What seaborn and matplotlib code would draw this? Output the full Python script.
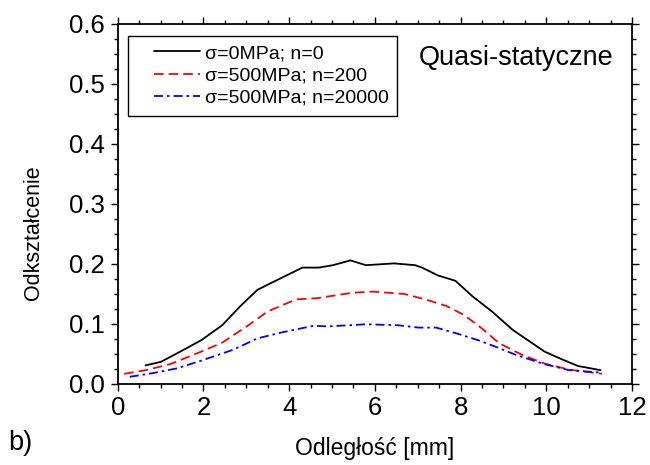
import matplotlib
matplotlib.use("Agg")
import matplotlib.pyplot as plt
from matplotlib.lines import Line2D
from matplotlib.legend_handler import HandlerLine2D
import seaborn as sns
import pandas as pd

# values
x_s0 = [0.65, 1.01, 1.46, 1.95, 2.44, 2.85, 3.26, 3.91, 4.31, 4.69, 5.02, 5.43, 5.79,
        6.45, 6.94, 7.10, 7.47, 7.88, 8.28, 8.73, 9.22, 9.59, 9.96, 10.37, 10.74, 11.27]
y_s0 = [0.031, 0.037, 0.054, 0.073, 0.098, 0.129, 0.157, 0.180, 0.194, 0.194, 0.198, 0.206, 0.198,
        0.201, 0.198, 0.194, 0.181, 0.172, 0.146, 0.121, 0.090, 0.072, 0.054, 0.041, 0.030, 0.023]

x_s500_n200 = [0.15, 0.65, 1.22, 1.95, 2.44, 3.01, 3.50, 4.16, 4.65, 5.47, 5.96, 6.69,
               7.18, 7.67, 8.08, 8.49, 8.90, 9.39, 9.96, 10.53, 11.30]
y_s500_n200 = [0.017, 0.023, 0.033, 0.054, 0.069, 0.096, 0.121, 0.141, 0.143, 0.152, 0.154, 0.150,
               0.141, 0.130, 0.115, 0.093, 0.068, 0.050, 0.034, 0.024, 0.017]

x_s500_n20000 = [0.28, 0.81, 1.38, 1.95, 2.69, 3.26, 3.83, 4.57, 4.90, 5.79, 6.53, 7.02,
                 7.43, 7.92, 8.41, 8.82, 9.31, 9.96, 10.53, 11.27]
y_s500_n20000 = [0.012, 0.018, 0.026, 0.039, 0.057, 0.076, 0.086, 0.097, 0.096, 0.0995, 0.098, 0.094,
                 0.094, 0.084, 0.073, 0.062, 0.048, 0.033, 0.023, 0.019]

labels = ["σ=0MPa; n=0", "σ=500MPa; n=200", "σ=500MPa; n=20000"]
colors = ["black", "red", "blue"]
styles = ["-", (0, (5.3, 2.8)), (0, (5, 2.2, 1.4, 2.2))]

sns.set_style("ticks")
plt.rcParams["font.family"] = ["Liberation Sans", "DejaVu Sans"]
plt.rcParams["text.color"] = "black"
plt.rcParams["axes.labelcolor"] = "black"
plt.rcParams["xtick.color"] = "black"
plt.rcParams["ytick.color"] = "black"
plt.rcParams["xtick.direction"] = "out"
plt.rcParams["ytick.direction"] = "out"

series = [(x_s0, y_s0), (x_s500_n200, y_s500_n200), (x_s500_n20000, y_s500_n20000)]

fig = plt.figure(figsize=(6.5, 4.65), dpi=100)
ax = fig.add_axes([0.1811, 0.1742, 0.7912, 0.7742])

for (xs, ys), lab, col, ls in zip(series, labels, colors, styles):
    df = pd.DataFrame({"x": xs, "y": ys})
    sns.lineplot(data=df, x="x", y="y", ax=ax, color=col, label=lab,
                 linestyle=ls, linewidth=1.3, sort=False)

ax.set_xlim(0, 12)
ax.set_ylim(0, 0.6)
ax.set_xticks([0, 2, 4, 6, 8, 10, 12])
ax.set_yticks([0.0, 0.1, 0.2, 0.3, 0.4, 0.5, 0.6])
ax.set_yticklabels(["0.0", "0.1", "0.2", "0.3", "0.4", "0.5", "0.6"])
ax.xaxis.set_minor_locator(matplotlib.ticker.MultipleLocator(0.5))
ax.yaxis.set_minor_locator(matplotlib.ticker.MultipleLocator(0.025))
ax.tick_params(which="both", top=True, right=True, labelsize=18.5, width=1.0, pad=4)
ax.tick_params(which="major", length=5)
ax.tick_params(which="minor", length=3)
for sp in ax.spines.values():
    sp.set_visible(True)
    sp.set_linewidth(1.3)
    sp.set_color("black")

ax.set_xlabel("Odległość [mm]", fontsize=16.5)
ax.set_ylabel("Odkształcenie", fontsize=15.5)
ax.xaxis.set_label_coords(0.5, -0.147)
ax.yaxis.set_label_coords(-0.143, 0.42)

ax.text(9.3, 0.543, "Quasi-statyczne", fontsize=19.5, ha="center", va="center")

leg = ax.legend(loc="upper left", bbox_to_anchor=(0.02, 0.967), borderaxespad=0,
                fontsize=14, frameon=True, fancybox=False, handlelength=3.25,
                handletextpad=0.24, labelspacing=0.24, borderpad=0.45,
                handler_map={Line2D: HandlerLine2D(xpad=0.89)})
leg.get_frame().set_edgecolor("black")
leg.get_frame().set_linewidth(1.0)
leg.get_frame().set_alpha(1)

fig.text(0.012, 0.048, "b)", fontsize=19.5, ha="left", va="center")

plt.savefig("out.png", dpi=100)
